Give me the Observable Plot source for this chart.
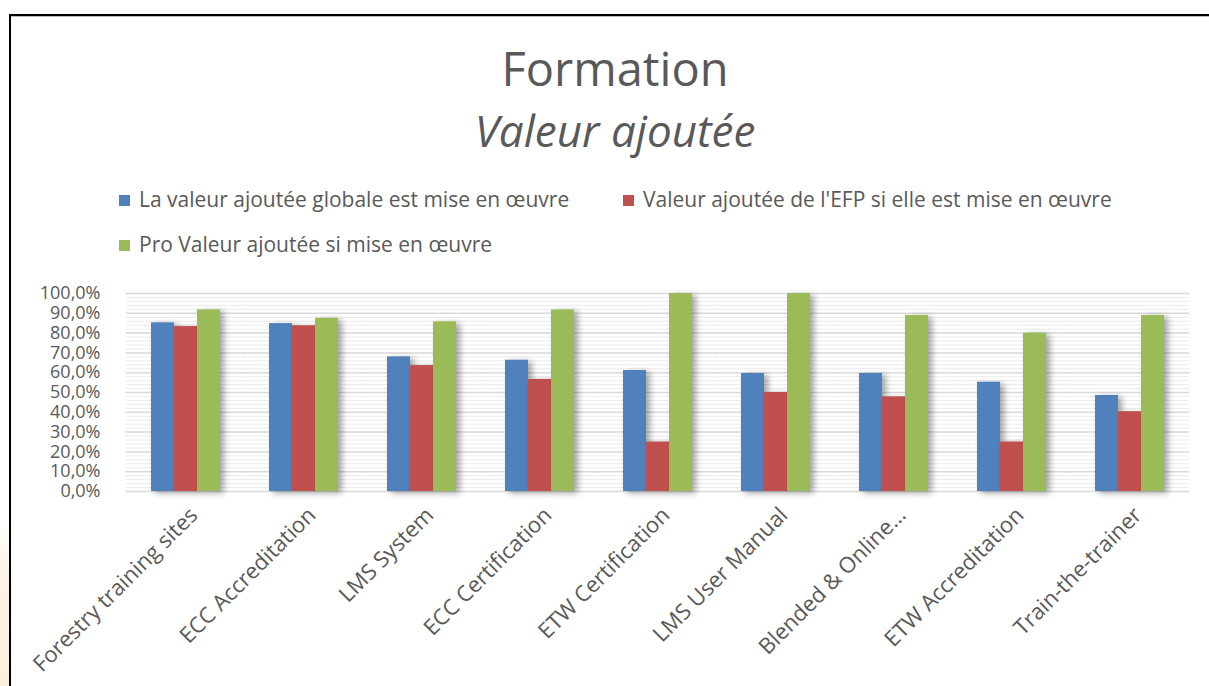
<!DOCTYPE html>
<html>
<head>
<meta charset="utf-8">
<script src="https://cdn.jsdelivr.net/npm/d3@7"></script>
<script src="https://cdn.jsdelivr.net/npm/@observablehq/plot@0.6"></script>
<style>
  html, body { margin: 0; padding: 0; background: #fff; }
  #wrap { position: relative; width: 1209px; height: 686px; overflow: hidden; background: #fff; font-family: "Open Sans", sans-serif; color: #595959; }
  #peach { position: absolute; left: 0; top: 520px; width: 9px; height: 166px; background: linear-gradient(#fff, #fbf3e6 30%, #fbf0de); }
  #frame { position: absolute; left: 9px; top: 14px; width: 1300px; height: 800px; border-left: 2px solid #000; border-top: 2px solid #000; box-shadow: inset 0 1px 0 #bbb; }
  .title { position: absolute; left: 0; width: 1230px; text-align: center; white-space: nowrap; }
  #t1 { top: 38px; font-size: 47px; line-height: 60px; }
  #t2 { top: 100px; font-size: 44px; line-height: 60px; font-style: italic; }
  .leg { position: absolute; font-size: 21px; line-height: 26px; white-space: nowrap; }
  .leg span { display: inline-block; width: 11px; height: 11px; margin-right: 9px; vertical-align: 1px; }
  #chart { position: absolute; left: 0; top: 270px; }
</style>
</head>
<body>
<div id="wrap">
  <div id="peach"></div>
  <div id="frame"></div>
  <div class="title" id="t1">Formation</div>
  <div class="title" id="t2">Valeur ajoutée</div>
  <div id="legend"></div>
  <div id="chart"></div>
</div>
<script>
const categories = ["Forestry training sites", "ECC Accreditation", "LMS System", "ECC Certification", "ETW Certification", "LMS User Manual", "Blended & Online…", "ETW Accreditation", "Train-the-trainer"];
const seriesNames = ["La valeur ajoutée globale est mise en œuvre", "Valeur ajoutée de l'EFP si elle est mise en œuvre", "Pro Valeur ajoutée si mise en œuvre"];
const seriesColors = ["#4F81BD", "#C0504D", "#9BBB59"];
const globale = [85.2, 84.8, 68.0, 66.3, 61.1, 59.6, 59.6, 55.2, 48.5];
const efp     = [83.3, 83.7, 63.6, 56.6, 25.0, 50.0, 47.8, 25.0, 40.3];
const pro     = [91.7, 87.5, 85.7, 91.7, 100.0, 100.0, 88.9, 80.0, 88.9];
const yTicks = [0, 10, 20, 30, 40, 50, 60, 70, 80, 90, 100];
const yMinorTicks = [2, 4, 6, 8, 12, 14, 16, 18, 22, 24, 26, 28, 32, 34, 36, 38, 42, 44, 46, 48, 52, 54, 56, 58, 62, 64, 66, 68, 72, 74, 76, 78, 82, 84, 86, 88, 92, 94, 96, 98];

// legend
const legendPos = [[119, 186], [623, 186], [119, 231]];
const legend = document.getElementById("legend");
seriesNames.forEach((name, i) => {
  const d = document.createElement("div");
  d.className = "leg";
  d.style.left = legendPos[i][0] + "px";
  d.style.top = legendPos[i][1] + "px";
  d.innerHTML = `<span style="background:${seriesColors[i]}"></span>`;
  d.appendChild(document.createTextNode(name));
  legend.appendChild(d);
});

const valuesBySeries = [globale, efp, pro];
const rows = [];
categories.forEach((c, j) => {
  seriesNames.forEach((s, i) => rows.push({category: c, series: s, value: valuesBySeries[i][j]}));
});

const fmt = d => d.toFixed(1).replace(".", ",") + "%";

const W = 1209, ML = 123, MR = 18;
const paddingInner = 0.4, paddingOuter = 0.2;
const step = (W - ML - MR) / (categories.length - paddingInner + 2 * paddingOuter);
const ext = -(paddingInner / 2) * step - 0.5;

const chart = Plot.plot({
  width: W,
  height: 416,
  marginTop: 23,
  marginBottom: 195,
  marginLeft: ML,
  marginRight: MR,
  style: {fontFamily: "'Open Sans', sans-serif", fontSize: "18px", color: "#595959", background: "transparent"},
  fx: {domain: categories, paddingInner, paddingOuter, label: null, axis: null},
  x: {domain: seriesNames, padding: 0, axis: null},
  y: {domain: [0, 100], ticks: yTicks, tickFormat: fmt, tickSize: 0, tickPadding: 50, label: null},
  color: {domain: seriesNames, range: seriesColors},
  marks: [
    Plot.ruleY(yMinorTicks, {stroke: "#ececec", strokeWidth: 1, insetLeft: ext, insetRight: ext}),
    Plot.ruleY(yTicks, {stroke: "#d9d9d9", strokeWidth: 1.5, insetLeft: ext, insetRight: ext}),
    Plot.barY(rows, {fx: "category", x: "series", y: "value", fill: "series"}),
    Plot.axisFx({anchor: "bottom", tickRotate: -45, tickSize: 0, tickPadding: 20, dx: 8, fontSize: 22, label: null, fill: "#595959"})
  ]
});
document.getElementById("chart").appendChild(chart);
d3.select(chart).selectAll("g[aria-label='bar'] rect").style("filter", "drop-shadow(4px 2px 3px rgba(0,0,0,0.35))");
</script>
</body>
</html>
